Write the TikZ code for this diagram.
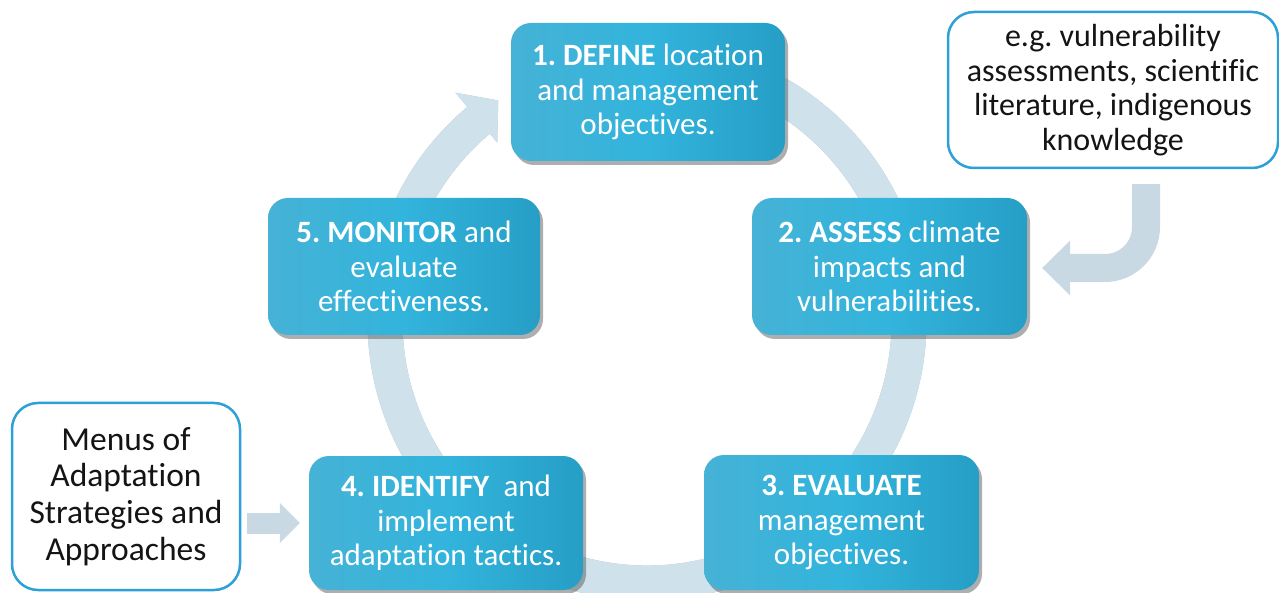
\documentclass[tikz,border=0pt]{standalone}
\usepackage{fontspec}
\setmainfont{Carlito}[Ligatures=NoCommon]
\frenchspacing
\usetikzlibrary{arrows.meta,shadows}

\definecolor{boxL}{RGB}{70,178,214}
\definecolor{boxM}{RGB}{50,180,220}
\definecolor{boxR}{RGB}{38,158,198}
\definecolor{ringC}{RGB}{207,226,236}
\definecolor{ringShadow}{RGB}{172,182,190}
\definecolor{feedC}{RGB}{200,217,228}
\definecolor{calloutC}{RGB}{45,160,215}

\tikzset{
  stepbox/.style={rounded corners=20pt, minimum width=274pt, minimum height=137pt,
    align=center, text=white, inner sep=0pt,
    left color=boxL, right color=boxR, middle color=boxM,
    font=\fontsize{31}{34.5}\selectfont,
    drop shadow={shadow xshift=3pt, shadow yshift=-4pt, opacity=0.45, fill=black!70}},
  infobox/.style={draw=calloutC, line width=2.5pt, fill=white, rounded corners=26pt,
    align=center, text=black!92, inner sep=0pt},
  feedarrow/.style={draw=feedC, line width=28pt,
    -{Triangle[length=28pt,width=55pt,line width=0pt]}},
  sidearrow/.style={draw=feedC, line width=21pt,
    -{Triangle[length=20pt,width=40pt,line width=0pt]}},
}

\begin{document}
\begin{tikzpicture}[x=1pt,y=1pt]
\useasboundingbox (0,0) rectangle (1279,592);

% circular cycle arrow behind the steps
\coordinate (ctr) at (647,271);
\begin{scope}[shift={(2,-2.5)}]
  \draw[ringShadow, line width=35pt] ([shift={(112:262)}]ctr)
    arc[start angle=112, end angle=-230.3, radius=262];
  \fill[ringShadow] ([shift={(130:298)}]ctr) -- ([shift={(124:266)}]ctr)
    -- ([shift={(130:233)}]ctr) -- cycle;
\end{scope}
\draw[ringC, line width=35pt] ([shift={(112:262)}]ctr)
  arc[start angle=112, end angle=-230.3, radius=262];
\fill[ringC] ([shift={(130:298)}]ctr) -- ([shift={(124:266)}]ctr)
  -- ([shift={(130:233)}]ctr) -- cycle;

% the five steps
\node[stepbox, minimum height=138pt] (b1) at (648,500)
  {\textbf{1. DEFINE} location\\and management\\objectives.};
\node[stepbox, minimum width=275pt] (b2) at (889.5,325.5)
  {\textbf{2. ASSESS} climate\\impacts and\\vulnerabilities.};
\node[stepbox, minimum width=275pt, minimum height=135pt] (b3) at (841.5,69.5)
  {\textbf{3. EVALUATE}\\management\\objectives.};
\node[stepbox, minimum height=134pt] (b4) at (446,69)
  {\textbf{4. IDENTIFY}\ \ and\\implement\\adaptation tactics.};
\node[stepbox, minimum width=272pt] (b5) at (404,325.5)
  {\textbf{5. MONITOR} and\\evaluate\\effectiveness.};

% information sources
\node[infobox, minimum width=330pt, minimum height=156pt,
  font=\fontsize{32}{34.5}\selectfont] (rc) at (1113,502)
  {e.g. vulnerability\\assessments, scientific\\literature, indigenous\\knowledge};
\node[infobox, minimum width=228pt, minimum height=187pt,
  font=\fontsize{33.5}{36.7}\selectfont] (lc) at (126,95.5)
  {Menus of\\Adaptation\\Strategies and\\Approaches};

% feeds into the cycle
\draw[feedarrow, rounded corners=41pt] ([xshift=33pt,yshift=-15pt]rc.south)
  |- ([xshift=15pt,yshift=-1.5pt]b2.east);
\draw[sidearrow] ([xshift=-62pt]b4.west) -- ([xshift=-9pt]b4.west);
\end{tikzpicture}
\end{document}
